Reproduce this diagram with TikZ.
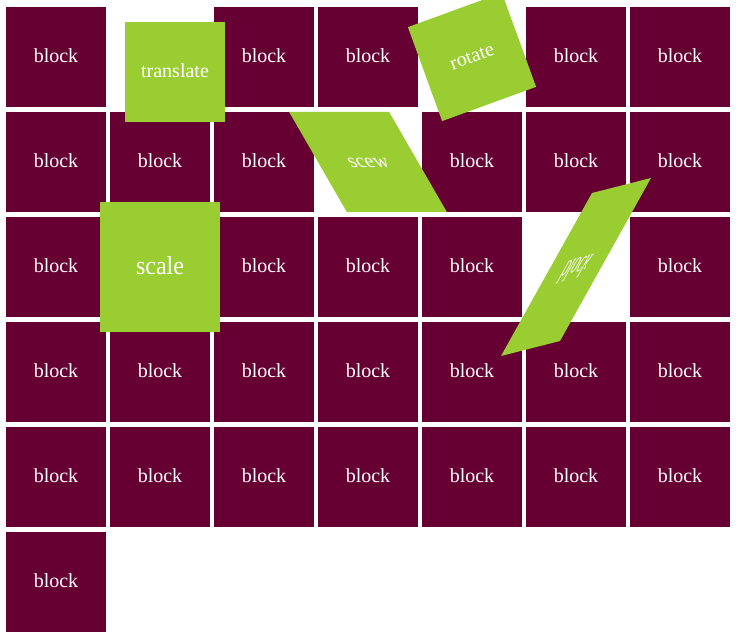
\documentclass[tikz,border=0pt]{standalone}
\usepackage{fontspec}
\setmainfont{Liberation Serif}
\definecolor{blockcol}{RGB}{102,0,51}
\definecolor{greencol}{RGB}{154,205,50}
\tikzset{
  blk/.style={fill=blockcol, text=white, minimum width=100pt, minimum height=100pt,
    inner sep=0pt, outer sep=0pt, text height=11.4pt, text depth=0pt,
    font=\fontsize{20}{24}\selectfont},
  gblk/.style={blk, fill=greencol, transform shape}
}
\begin{document}
\begin{tikzpicture}[x=1pt,y=1pt]
\useasboundingbox (0,0) rectangle (739,-639);
\foreach \i in {0,2,3,5,6,7,8,9,11,12,13,14,16,17,18,20,21,...,35}{
  \pgfmathtruncatemacro\r{int(\i/7)}
  \pgfmathtruncatemacro\c{mod(\i,7)}
  \node[blk] (b-\r-\c) at ({56+104*\c},{-57-105*\r}) {block};
}
% transformed blocks, drawn on top
\begin{scope}[shift={(175,-72)}]
  \node[gblk] (translate) at (0,0) {translate};
\end{scope}
\begin{scope}[shift={(472,-57)}, rotate=20]
  \node[gblk] (rotate) at (0,0) {rotate};
\end{scope}
\begin{scope}[shift={(368,-162)}, xslant=-0.577]
  \node[gblk] (scew) at (0,0) {scew};
\end{scope}
\begin{scope}[shift={(160,-267)}, xscale=1.2, yscale=1.3]
  \node[gblk] (scale) at (0,0) {scale};
\end{scope}
\begin{scope}[shift={(576,-267)}, cm={0.59,0.15,-0.91,-1.63,(0,0)}]
  \node[gblk] (matrix) at (0,0) {block};
\end{scope}
\end{tikzpicture}
\end{document}
